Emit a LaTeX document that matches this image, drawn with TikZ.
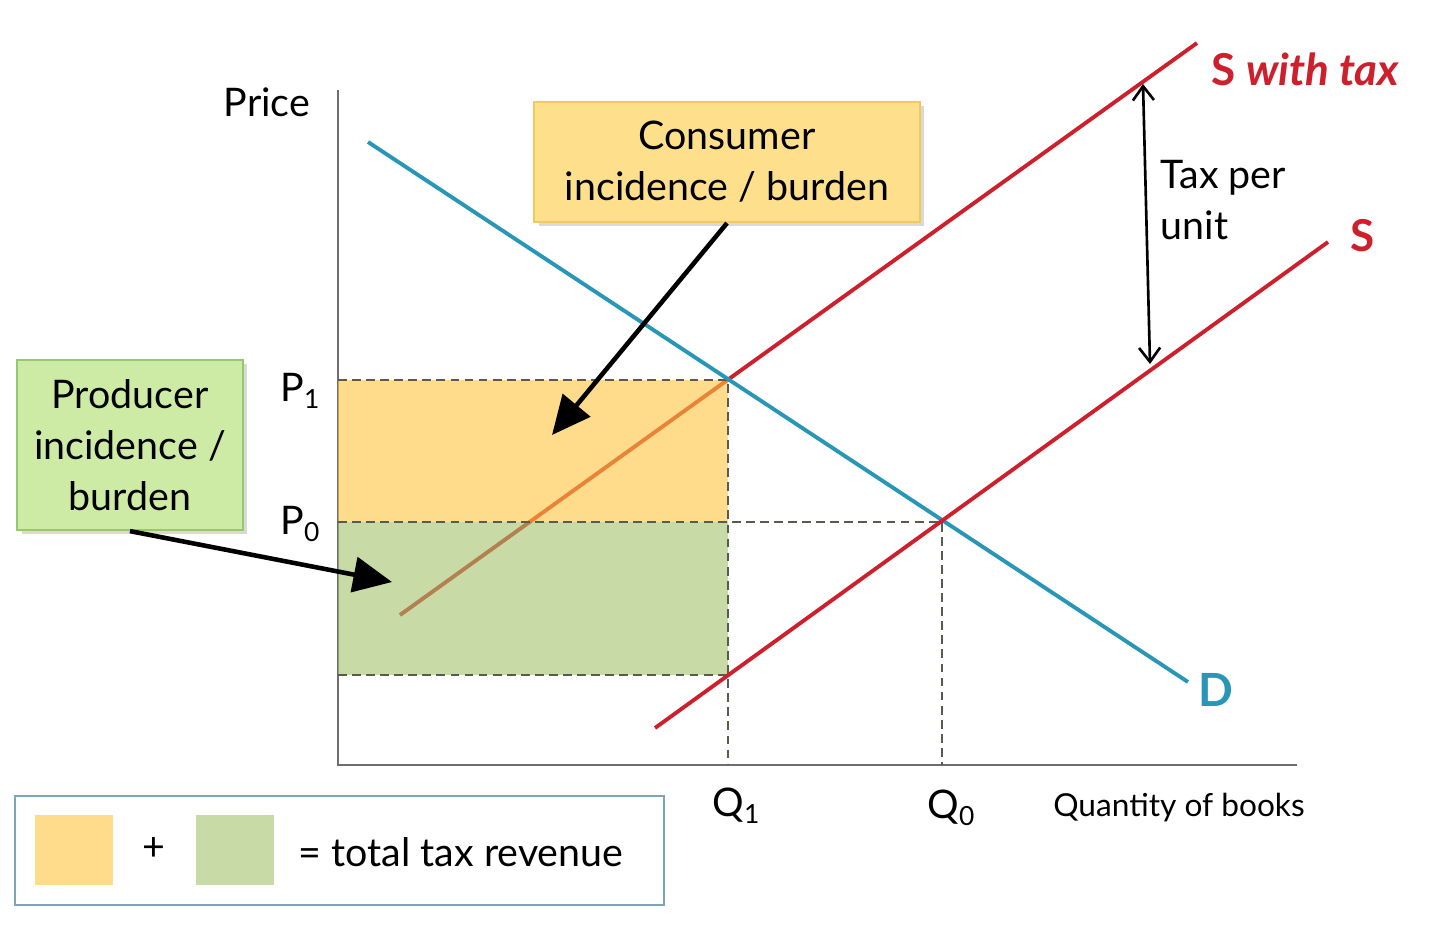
\documentclass[tikz,border=0pt]{standalone}
\usepackage{fontspec}
\setmainfont{Lato}
\usetikzlibrary{arrows.meta,shadows}
\definecolor{dteal}{RGB}{40,150,182}
\definecolor{sred}{RGB}{205,32,44}
\definecolor{yfill}{RGB}{253,197,63}
\definecolor{gfill}{RGB}{163,193,105}
\definecolor{cboxfill}{RGB}{254,224,140}
\definecolor{cboxdraw}{RGB}{242,200,95}
\definecolor{pboxfill}{RGB}{205,235,165}
\definecolor{pboxdraw}{RGB}{150,200,110}
\definecolor{legdraw}{RGB}{125,165,185}
\definecolor{legy}{RGB}{254,220,140}
\definecolor{legg}{RGB}{200,218,165}
\definecolor{axisgray}{RGB}{110,110,110}
\definecolor{dashgray}{RGB}{90,90,80}
\tikzset{
  axisline/.style={draw=axisgray,line width=0.6pt},
  demandline/.style={draw=dteal,line width=1.1pt},
  supplyline/.style={draw=sred,line width=1.1pt},
  guide/.style={draw=dashgray,line width=0.45pt,dash pattern=on 2.5pt off 1.5pt},
  bigarrow/.style={draw=black,line width=1.3pt,-{Triangle[length=11pt,width=10pt]}},
  taxarrow/.style={draw=black,line width=0.75pt,{Straight Barb[length=4pt,width=6pt]}-{Straight Barb[length=4pt,width=6pt]}},
  txt/.style={font=\fontsize{11.2}{14.5}\selectfont,inner sep=0pt},
  infobox/.style={txt,align=center,line width=0.6pt,drop shadow={opacity=0.3,shadow xshift=1.2pt,shadow yshift=-1.2pt}},
  cbox/.style={infobox,fill=cboxfill,draw=cboxdraw,minimum width=3.85cm,minimum height=1.2cm},
  pbox/.style={infobox,fill=pboxfill,draw=pboxdraw,minimum width=2.25cm,minimum height=1.7cm},
  legsq/.style={minimum width=0.78cm,minimum height=0.7cm,inner sep=0pt},
  redlbl/.style={font=\fontsize{12.5}{15}\selectfont\bfseries,text=sred,inner sep=0pt},
}
\newcommand{\mysub}[1]{\raisebox{-0.35ex}{\fontsize{7.5}{9}\selectfont #1}}
\begin{document}
\begin{tikzpicture}[x=0.01cm,y=-0.01cm]
\useasboundingbox (0,0) rectangle (1440,927);

% key points
\coordinate (O) at (338,765);
\coordinate (ytop) at (338,90);
\coordinate (xend) at (1297,765);
\coordinate (Dstart) at (368,142);
\coordinate (Dend) at (1188,682);
\coordinate (Tstart) at (400,615);
\coordinate (Tend) at (1197,43);
\coordinate (Sstart) at (655,728);
\coordinate (Send) at (1328,242);
\coordinate (E1) at (728,380);
\coordinate (E0) at (942,522);
\coordinate (F) at (728,675);
\coordinate (P1y) at (338,380);
\coordinate (P0y) at (338,522);
\coordinate (Fy) at (338,675);
\coordinate (Q1x) at (728,765);
\coordinate (Q0x) at (942,765);

% axes
\draw[axisline] (ytop) -- (O) -- (xend);

% supply with tax (under the translucent fills)
\draw[supplyline] (Tstart) -- (Tend);

% tax areas
\fill[yfill,opacity=0.6] (P1y) rectangle (E1 |- P0y);
\fill[gfill,opacity=0.6] (P0y) rectangle (F);

% guides
\draw[guide] (P1y) -- (E1) -- (Q1x);
\draw[guide] (P0y) -- (E0) -- (Q0x);
\draw[guide] (Fy) -- (F);

% demand and supply
\draw[demandline] (Dstart) -- (Dend);
\draw[supplyline] (Sstart) -- (Send);

% labels
\node[txt] (price) at (267,102) {Price};
\node[txt] (p1) at (300,391) {P\mysub{1}};
\node[txt] (p0) at (300,524) {P\mysub{0}};
\node[txt] (q1) at (736,806) {Q\mysub{1}};
\node[txt] (q0) at (951,808) {Q\mysub{0}};
\node[txt,font=\fontsize{9}{12}\selectfont] (qlab) at (1179,808) {Quantity of books};
\node[font=\fontsize{13}{15}\selectfont\bfseries,text=dteal,inner sep=0pt] (dlab) at (1216,690) {D};
\node[redlbl,anchor=west] (stlab) at (1211,69) {S \textit{with tax}};
\node[redlbl] (slab) at (1363,236) {S};

% tax per unit
\coordinate (taxtop) at (1143,84);
\coordinate (taxbot) at (1150,364);
\draw[taxarrow] (taxbot) -- (taxtop);
\node[txt,anchor=north west,align=left] (taxlab) at (1160,160) {Tax per\\unit};

% incidence boxes
\node[cbox] (cons) at (727,162) {Consumer\\incidence / burden};
\node[pbox] (prod) at (130,445) {Producer\\incidence /\\burden};
\coordinate (consTip) at (552,435);
\coordinate (prodTip) at (392,582);
\draw[bigarrow] (cons.south) -- (consTip);
\draw[bigarrow] (prod.south) -- (prodTip);

% legend
\node[draw=legdraw,line width=0.7pt,minimum width=6.49cm,minimum height=1.09cm,inner sep=0pt] (legend) at (339.5,850.5) {};
\node[legsq,fill=legy] (legY) at (74,850) {};
\node[legsq,fill=legg] (legG) at (235,850) {};
\node[txt] (plus) at (154,849) {+};
\node[txt,anchor=west] (total) at (298,852) {= total tax revenue};
\end{tikzpicture}
\end{document}
